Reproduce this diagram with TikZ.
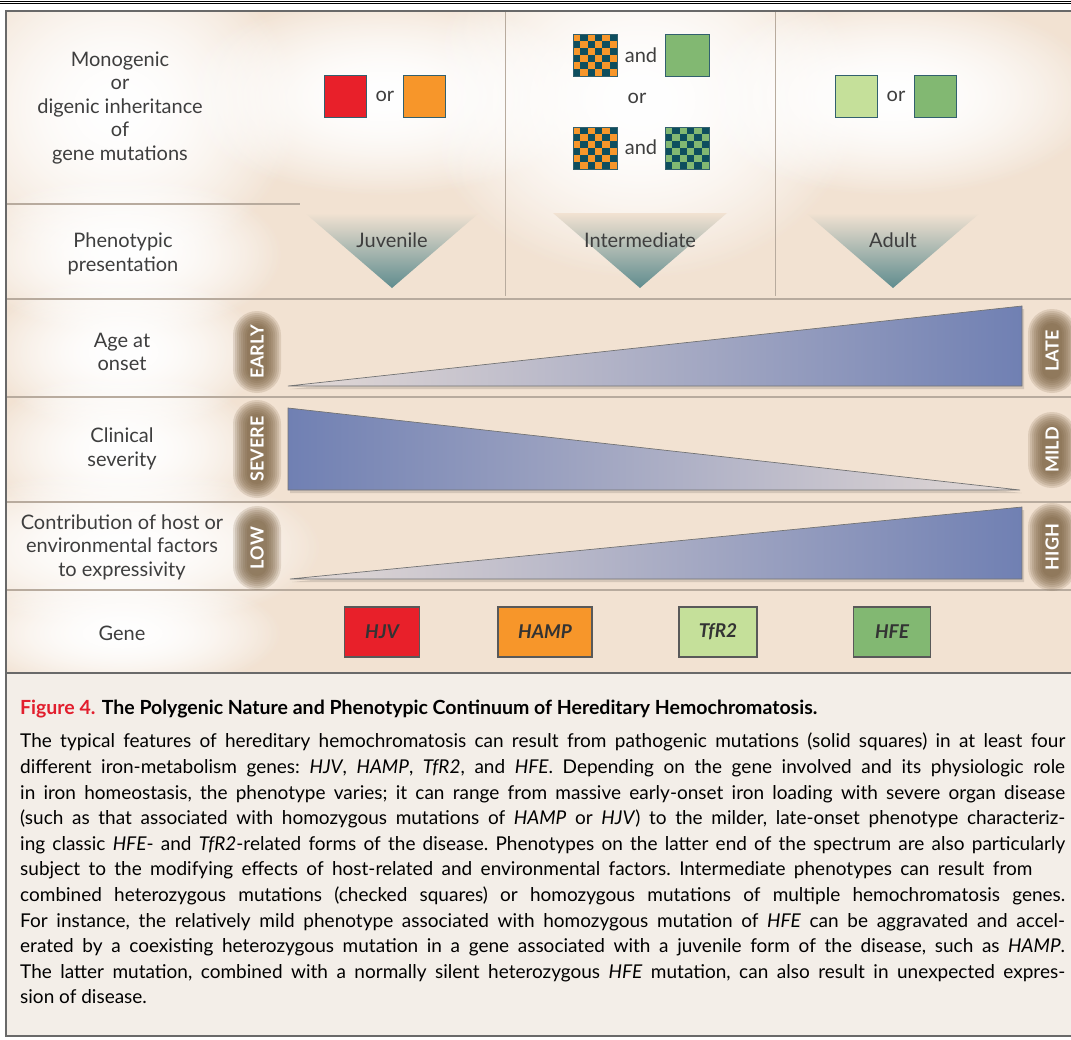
\documentclass[tikz,border=0pt]{standalone}
\usepackage{fontspec}
\setmainfont{Lato}
\usepackage{xcolor}
\usetikzlibrary{positioning, fadings}
\definecolor{nejmpeach}{RGB}{242,226,210}
\definecolor{nejmcream}{RGB}{243,238,232}
\definecolor{nejmframe}{RGB}{105,105,105}
\definecolor{nejmtext}{RGB}{62,62,62}
\definecolor{nejmred}{RGB}{232,32,42}
\definecolor{nejmorange}{RGB}{247,150,42}
\definecolor{nejmlime}{RGB}{197,224,154}
\definecolor{nejmgreen}{RGB}{130,184,114}
\definecolor{nejmteal}{RGB}{14,78,94}
\definecolor{nejmedge}{RGB}{50,96,110}
\definecolor{nejmslate}{RGB}{95,140,142}
\definecolor{nejmblue}{RGB}{112,128,179}
\definecolor{nejmmist}{RGB}{228,218,214}
\definecolor{nejmbrown}{RGB}{118,92,60}
\definecolor{nejmsep}{RGB}{184,171,158}
\definecolor{nejmfig}{RGB}{226,30,45}
\tikzfading[name=glowfade, inner color=transparent!0, outer color=transparent!100]

% checked square: name, left, top, light colour, dark colour
\newcommand{\checkersq}[5]{
	\node[solidsq, fill=#5, minimum width=44pt, anchor=north west] (#1) at (#2,#3) {};
	\foreach \i in {0,...,5}
	\foreach \j in {0,...,5} {
		\pgfmathsetmacro{\cellodd}{int(mod(\i+\j,2))}
		\ifnum\cellodd=0
			\fill[#4] (#2+\i*7.333, #3+\j*7) rectangle ++(7.333,7);
		\fi
	}
	\draw[nejmedge, line width=0.9pt] (#1.north west) rectangle (#1.south east);
}

% blurred pill: name, x, y, half height, text
\newcommand{\rowpill}[5]{
	\foreach \g in {14,12,...,0} {
		\pgfmathsetmacro{\pillr}{10+\g}
		\fill[nejmbrown, opacity=0.17, rounded corners=\pillr pt] (#2-10-\g, #3-#4-\g) rectangle (#2+10+\g, #3+#4+\g);
	}
	\node[pilltext] (#1) at (#2,#3) {#5};
}

% one justified caption line
\newcommand{\capline}[2][1045pt]{\makebox[#1][s]{#2}}

\begin{document}
\begin{tikzpicture}[x=1pt, y=-1pt,
	rowlabel/.style={align=center, text=nejmtext, font=\fontsize{20}{23.5}\selectfont},
	wordlabel/.style={text=nejmtext, font=\fontsize{20}{22}\selectfont, inner sep=0pt},
	solidsq/.style={draw=nejmedge, line width=0.9pt, minimum width=42pt, minimum height=42pt, inner sep=0pt},
	genebox/.style={draw=black!65, line width=1.2pt, minimum height=50pt, inner sep=0pt, text=black!80, font=\fontsize{19}{21}\selectfont\bfseries\itshape},
	pilltext/.style={rotate=90, text=white, font=\fontsize{18}{20}\selectfont\bfseries},
	halo/.style={fill=white, path fading=glowfade},
	sepline/.style={draw=nejmsep, line width=1.2pt},
	wedge/.style={top color=nejmpeach, bottom color=nejmslate},
	ramp/.style={draw=black!55, line width=0.7pt}
]
	\useasboundingbox[fill=white] (0,0) rectangle (1071,1039);

	% Panel backgrounds
	\fill[nejmpeach] (6,11) rectangle (1071,673);
	\fill[nejmcream] (6,673) rectangle (1071,1036);

	% Soft white glows behind the labels (two passes for a brighter core)
	\begin{scope}
		\clip (6,11) rectangle (1071,673);
		\foreach \hx/\hy/\rx/\ry in {118/108/180/160, 123/254/160/80, 123/352/140/80, 123/449/140/80,
				122/547/200/80, 122/633/160/60, 384/96/210/100, 640/100/220/180, 893/96/210/100} {
			\fill[halo] (\hx,\hy) ellipse ({\rx} and {\ry});
			\fill[halo] (\hx,\hy) ellipse ({\rx} and {\ry});
		}
	\end{scope}

	% Row and column rules
	\draw[sepline] (6,204) -- (300,204);
	\foreach \y in {299,397,502,590}
		\draw[sepline] (6,\y) -- (1071,\y);
	\draw[sepline, line width=1pt] (505,11) -- (505,296);
	\draw[sepline, line width=1pt] (775,11) -- (775,296);

	% Row labels
	\node[rowlabel] (inherit) at (120,108) {Monogenic\\or\\digenic inheritance\\of\\gene mutations};
	\node[rowlabel] (presentation) at (123,254) {Phenotypic\\presentation};
	\node[rowlabel] (onset) at (122,352) {Age at\\onset};
	\node[rowlabel] (severity) at (122,449) {Clinical\\severity};
	\node[rowlabel] (factors) at (122,547) {Contribution of host or\\environmental factors\\to expressivity};
	\node[rowlabel] (gene) at (122,633) {Gene};

	% Juvenile: solid squares
	\node[solidsq, fill=nejmred] (hjvsq) at (345,96) {};
	\node[wordlabel, right=9pt of hjvsq] (orjuv) {or};
	\node[solidsq, fill=nejmorange, right=9pt of orjuv] (hampsq) {};

	% Intermediate: checked squares
	\checkersq{mixa}{573}{34}{nejmorange}{nejmteal}
	\node[wordlabel] (anda) at (641,55) {and};
	\node[solidsq, fill=nejmgreen, minimum width=44pt, anchor=north west] (hfesq) at (665,34) {};
	\node[wordlabel] (ormid) at (637,98) {or};
	\checkersq{mixb}{573}{127}{nejmorange}{nejmteal}
	\node[wordlabel] (andb) at (641,147) {and};
	\checkersq{mixc}{665}{127}{nejmgreen}{nejmteal}

	% Adult: solid squares
	\node[solidsq, fill=nejmlime] (tfrsq) at (856,96) {};
	\node[wordlabel, right=9pt of tfrsq] (oradult) {or};
	\node[solidsq, fill=nejmgreen, right=9pt of oradult] (hfesqb) {};

	% Phenotype wedges
	\foreach \cx/\name/\word in {392/juvenile/Juvenile, 640/intermediate/Intermediate, 893/adult/Adult} {
		\shade[wedge] (\cx-87,213) -- (\cx+87,213) -- (\cx,288) -- cycle;
		\node[rowlabel] (\name) at (\cx,240) {\word};
	}

	% Continuum ramps, with a faint shadow
	\fill[black, opacity=0.12] (290,389) -- (1024,309) -- (1024,389) -- cycle;
	\fill[black, opacity=0.12] (290,411) -- (290,493) -- (1022,493) -- cycle;
	\fill[black, opacity=0.12] (292,582) -- (1024,510) -- (1024,582) -- cycle;
	\shade[ramp, left color=nejmmist, right color=nejmblue] (288,386) -- (1022,306) -- (1022,386) -- cycle;
	\shade[ramp, left color=nejmblue, right color=nejmmist] (288,408) -- (288,490) -- (1020,490) -- cycle;
	\shade[ramp, left color=nejmmist, right color=nejmblue] (290,579) -- (1022,507) -- (1022,579) -- cycle;

	% End pills
	\rowpill{early}{257}{352}{27}{EARLY}
	\rowpill{severe}{257}{449}{35}{SEVERE}
	\rowpill{low}{257}{548}{28}{LOW}
	\rowpill{late}{1052}{351}{28}{LATE}
	\rowpill{mild}{1052}{450}{24}{MILD}
	\rowpill{high}{1052}{547}{30}{HIGH}

	% Genes
	\node[genebox, fill=nejmred, minimum width=75pt] (hjv) at (382,632) {HJV};
	\node[genebox, fill=nejmorange, minimum width=94pt] (hamp) at (545,632) {HAMP};
	\node[genebox, fill=nejmlime, minimum width=78pt] (tfr) at (718,632) {TfR2};
	\node[genebox, fill=nejmgreen, minimum width=77pt] (hfe) at (892,632) {HFE};

	% Frame
	\draw[nejmframe, line width=2.2pt] (6,673) -- (1071,673);
	\draw[nejmframe, line width=2.6pt] (1075,11) -- (6,11) -- (6,1036) -- (1075,1036);
	\draw[black, line width=0.8pt] (0,1) -- (1071,1);
	\draw[black, line width=0.8pt] (0,3.6) -- (1071,3.6);

	% Caption
	\node[anchor=base west, inner sep=0pt, font=\fontsize{19.5}{22}\selectfont\bfseries] (figtitle) at (20,714)
		{\textcolor{nejmfig}{Figure 4.} The Polygenic Nature and Phenotypic Continuum of Hereditary Hemochromatosis.};
	\node[anchor=north west, inner sep=0pt, align=left, font=\fontsize{19}{25.6}\selectfont\frenchspacing] (legend) at (20,733)
		{\capline{The typical features of hereditary hemochromatosis can result from pathogenic mutations (solid squares) in at least four}\\
		\capline{different iron-metabolism genes: \textit{HJV}, \textit{HAMP}, \textit{TfR2}, and \textit{HFE}. Depending on the gene involved and its physiologic role}\\
		\capline{in iron homeostasis, the phenotype varies; it can range from massive early-onset iron loading with severe organ disease}\\
		\capline{(such as that associated with homozygous mutations of \textit{HAMP} or \textit{HJV}) to the milder, late-onset phenotype characteriz-}\\
		\capline{ing classic \textit{HFE}- and \textit{TfR2}-related forms of the disease. Phenotypes on the latter end of the spectrum are also particularly}\\
		\capline[1012pt]{subject to the modifying effects of host-related and environmental factors. Intermediate phenotypes can result from}\\
		\capline{combined heterozygous mutations (checked squares) or homozygous mutations of multiple hemochromatosis genes.}\\
		\capline{For instance, the relatively mild phenotype associated with homozygous mutation of \textit{HFE} can be aggravated and accel-}\\
		\capline{erated by a coexisting heterozygous mutation in a gene associated with a juvenile form of the disease, such as \textit{HAMP}.}\\
		\capline{The latter mutation, combined with a normally silent heterozygous \textit{HFE} mutation, can also result in unexpected expres-}\\
		sion of disease.};
\end{tikzpicture}
\end{document}
